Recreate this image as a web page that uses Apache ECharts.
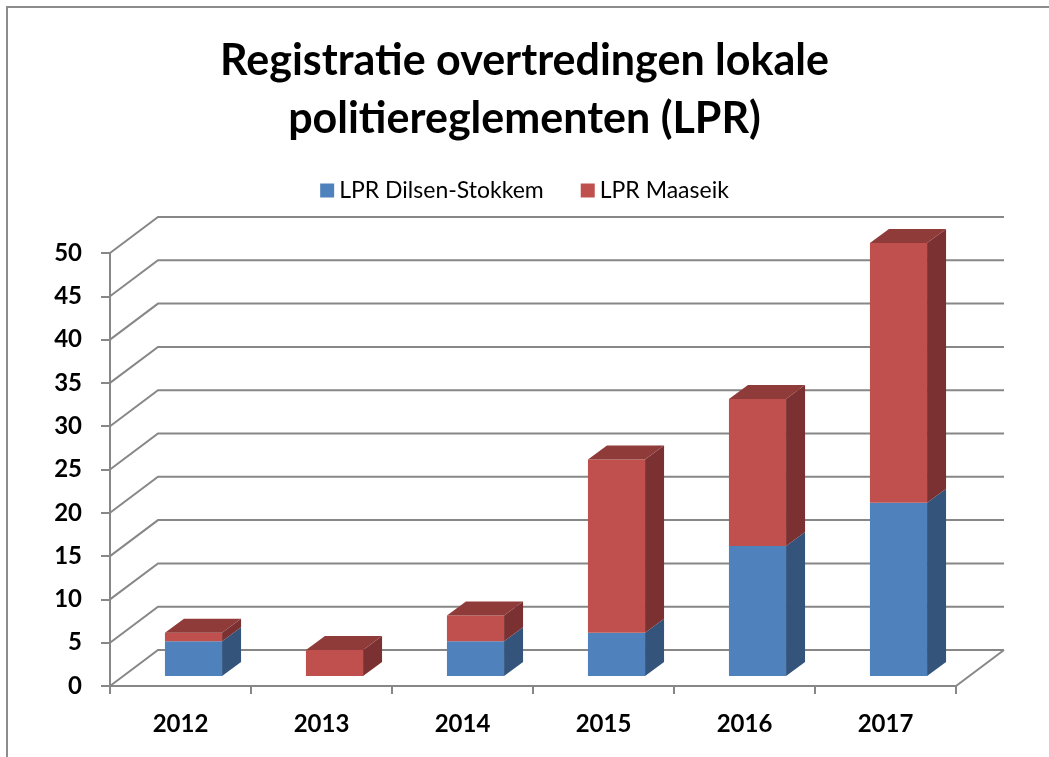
<!DOCTYPE html>
<html>
<head>
    <meta charset="utf-8">
    <title>LPR</title>
    <script src="https://cdn.jsdelivr.net/npm/echarts@6/dist/echarts.min.js"></script>
    <style>
        html, body { margin: 0; padding: 0; background: #fff; }
    </style>
</head>
<body>
    <div id="main" style="width: 1049px;height:757px;"></div>
    <script type="text/javascript">
        // data
        var years = ['2012', '2013', '2014', '2015', '2016', '2017'];
        var dilsen = [4, 0, 4, 5, 15, 20];
        var maaseik = [1, 3, 3, 20, 17, 30];
        var yTicks = [0, 5, 10, 15, 20, 25, 30, 35, 40, 45, 50];

        var myChart = echarts.init(document.getElementById('main'));

        // fake 3d: how far the back wall sits from the front plane
        var DX = 48, DY = -36;
        // bar box: front face offset, depth
        var BOX_DX = 13, BOX_DY = -10, DEPTH_X = 19, DEPTH_Y = -14;
        var GRID_COL = '#878787';

        var blue = { front: '#4F81BD', side: '#34547C', top: '#3F6797' };
        var red = { front: '#C0504D', side: '#7B3131', top: '#8F3B39' };

        function wallItem(params, api) {
            var cs = params.coordSys;
            var v = yTicks[params.dataIndex];
            var y = api.coord([0, v])[1];
            var pts = [[cs.x, y], [cs.x + DX, y + DY], [cs.x + cs.width + DX, y + DY]];
            var children = [{
                type: 'polyline',
                shape: { points: pts },
                style: { stroke: GRID_COL, lineWidth: 2, fill: null }
            }];
            if (v === 0) {
                children.push({
                    type: 'line',
                    shape: { x1: cs.x + cs.width, y1: y, x2: cs.x + cs.width + DX, y2: y + DY },
                    style: { stroke: GRID_COL, lineWidth: 2 }
                });
            }
            return { type: 'group', children: children };
        }

        function boxRenderer(cols, baseArr, isTopArr) {
            return function (params, api) {
                var i = params.dataIndex;
                var val = api.value(1);
                if (!val) return null;
                var base = baseArr[i];
                var c = api.coord([i, base]);
                var t = api.coord([i, base + val]);
                var w = api.size([1, 0])[0] * 0.405;
                var x0 = c[0] - w / 2 + BOX_DX;
                var x1 = x0 + w;
                var yb = c[1] + BOX_DY;
                var yt = t[1] + BOX_DY;
                var children = [
                    {
                        type: 'polygon',
                        shape: { points: [[x1, yb], [x1 + DEPTH_X, yb + DEPTH_Y], [x1 + DEPTH_X, yt + DEPTH_Y], [x1, yt]] },
                        style: { fill: cols.side }
                    },
                    {
                        type: 'rect',
                        shape: { x: x0, y: yt, width: w, height: yb - yt },
                        style: { fill: cols.front }
                    }
                ];
                if (isTopArr[i]) {
                    children.push({
                        type: 'polygon',
                        shape: { points: [[x0, yt], [x1, yt], [x1 + DEPTH_X, yt + DEPTH_Y], [x0 + DEPTH_X, yt + DEPTH_Y]] },
                        style: { fill: cols.top }
                    });
                }
                return { type: 'group', children: children };
            };
        }

        var zeros = years.map(function () { return 0; });
        var dilsenTop = maaseik.map(function (m) { return m === 0; });
        var maaseikTop = years.map(function () { return true; });

        myChart.setOption({
            animation: false,
            textStyle: { fontFamily: 'Lato' },
            graphic: [{
                type: 'rect',
                shape: { x: 7, y: 7, width: 1200, height: 900 },
                style: { fill: null, stroke: '#8c8c8c', lineWidth: 2 },
                silent: true
            }],
            title: {
                text: 'Registratie overtredingen lokale\npolitiereglementen (LPR)',
                left: 'center',
                top: 32,
                padding: 0,
                textStyle: {
                    fontFamily: 'Lato',
                    fontWeight: 'bold',
                    fontSize: 43,
                    lineHeight: 58,
                    color: '#000'
                }
            },
            legend: {
                data: ['LPR Dilsen-Stokkem', 'LPR Maaseik'],
                top: 179,
                left: 'center',
                padding: 0,
                itemGap: 37,
                itemWidth: 14,
                itemHeight: 14,
                icon: 'rect',
                textStyle: { fontFamily: 'Lato', fontSize: 23, color: '#000' }
            },
            grid: {
                left: 110,
                right: 93,
                top: 253,
                bottom: 71,
                containLabel: false
            },
            xAxis: {
                type: 'category',
                data: years,
                axisLine: { lineStyle: { color: GRID_COL, width: 2 } },
                axisTick: { show: true, length: 8, lineStyle: { color: GRID_COL, width: 2 } },
                axisLabel: {
                    margin: 26,
                    fontFamily: 'Lato',
                    fontWeight: 'bold',
                    fontSize: 24,
                    color: '#000'
                },
                splitLine: { show: false }
            },
            yAxis: {
                type: 'value',
                min: 0,
                max: 50,
                interval: 5,
                axisLine: { show: true, lineStyle: { color: GRID_COL, width: 2 } },
                axisTick: { show: true, length: 9, lineStyle: { color: GRID_COL, width: 2 } },
                axisLabel: {
                    margin: 28,
                    fontFamily: 'Lato',
                    fontWeight: 'bold',
                    fontSize: 24,
                    color: '#000'
                },
                splitLine: { show: false }
            },
            series: [
                {
                    type: 'custom',
                    name: 'wall',
                    silent: true,
                    renderItem: wallItem,
                    data: yTicks.map(function (v, i) { return [i, v]; }),
                    z: 1
                },
                {
                    type: 'custom',
                    name: 'LPR Dilsen-Stokkem',
                    itemStyle: { color: blue.front },
                    renderItem: boxRenderer(blue, zeros, dilsenTop),
                    data: dilsen.map(function (v, i) { return [i, v]; }),
                    z: 2
                },
                {
                    type: 'custom',
                    name: 'LPR Maaseik',
                    itemStyle: { color: red.front },
                    renderItem: boxRenderer(red, dilsen, maaseikTop),
                    data: maaseik.map(function (v, i) { return [i, v]; }),
                    z: 3
                }
            ]
        });
    </script>
</body>
</html>
